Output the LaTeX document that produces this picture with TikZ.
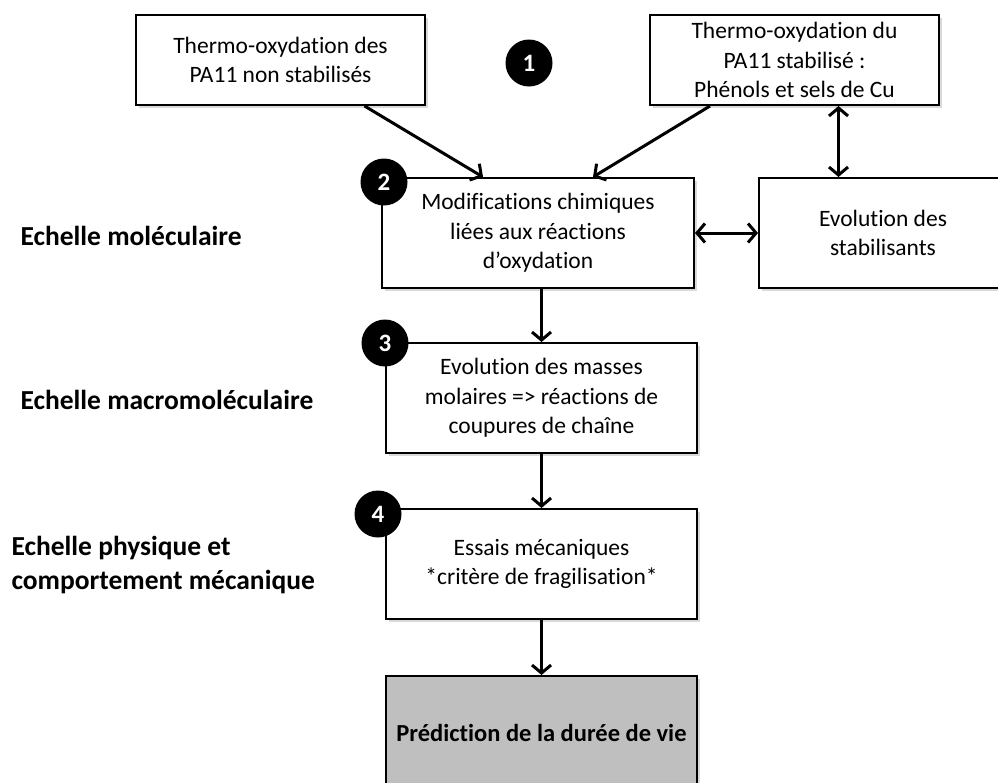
\documentclass[tikz,border=0pt]{standalone}
\usepackage{fontspec}
\setmainfont{Carlito}[Ligatures=NoCommon]
\usetikzlibrary{arrows.meta,shadows}
\definecolor{boxgray}{HTML}{BFBFBF}

\begin{document}
\begin{tikzpicture}[x=1pt, y=-1pt, every node/.style={font=\fontsize{23.5}{29.5}\selectfont},
  box/.style={draw, line width=2pt, fill=white, align=center, inner sep=4pt, drop shadow={shadow xshift=2.5pt, shadow yshift=-2.5pt, opacity=.3}},
  num/.style={circle, fill=black, text=white, minimum size=47pt, inner sep=0pt, font=\fontsize{25}{25}\selectfont\bfseries},
  lab/.style={anchor=west, align=left, font=\fontsize{27.5}{34}\selectfont\bfseries},
  arr/.style={line width=3pt, -{Straight Barb[length=8pt, width=19pt, line width=3pt]}},
  darr/.style={line width=3pt, {Straight Barb[length=8pt, width=19pt, line width=3pt]}-{Straight Barb[length=8pt, width=19pt, line width=3pt]}}]
\useasboundingbox (0,0) rectangle (998,782);
\clip (0,0) rectangle (998,782);
\node[box, minimum width=289pt, minimum height=90pt] (tonst) at (280.5,60) {Thermo-oxydation des\\PA11 non stabilisés};
\node[box, minimum width=289pt, minimum height=90pt] (tost) at (794.5,60) {Thermo-oxydation du\\PA11 stabilisé :\\Phénols et sels de Cu};
\node[box, minimum width=312pt, minimum height=110pt] (modif) at (538,233) {Modifications chimiques\\liées aux réactions\\d’oxydation};
\node[box, minimum width=248pt, minimum height=110pt] (stab) at (883,233) {Evolution des\\stabilisants};
\node[box, minimum width=311pt, minimum height=110pt] (masses) at (541.5,398) {Evolution des masses\\molaires => réactions de\\coupures de chaîne};
\node[box, minimum width=311pt, minimum height=110pt] (essais) at (541.5,564) {Essais mécaniques\\*critère de fragilisation*};
\node[box, fill=boxgray, minimum width=311pt, minimum height=114pt, font=\fontsize{24.5}{29}\selectfont\bfseries] (duree) at (541.5,733) {Prédiction de la durée de vie};
\node[num] (n1) at (529,63) {1};
\node[num] (n2) at (384,182) {2};
\node[num] (n3) at (385,343) {3};
\node[num] (n4) at (378,514) {4};
\node[lab] (l1) at (17,236) {Echelle moléculaire};
\node[lab] (l2) at (17,400) {Echelle macromoléculaire};
\node[lab] (l3) at (8,565) {Echelle physique et\\comportement mécanique};
\draw[arr] ([xshift=84pt]tonst.south) -- ([xshift=-55pt]modif.north);
\draw[arr] ([xshift=-84.5pt]tost.south) -- ([xshift=55pt]modif.north);
\draw[darr] ([xshift=44pt]tost.south) -- ([xshift=44pt]tost.south |- stab.north);
\draw[darr] (modif.east) -- (stab.west);
\draw[arr] (masses.north |- modif.south) -- (masses.north);
\draw[arr] (masses.south) -- (essais.north);
\draw[arr] (essais.south) -- (duree.north);
\end{tikzpicture}
\end{document}
